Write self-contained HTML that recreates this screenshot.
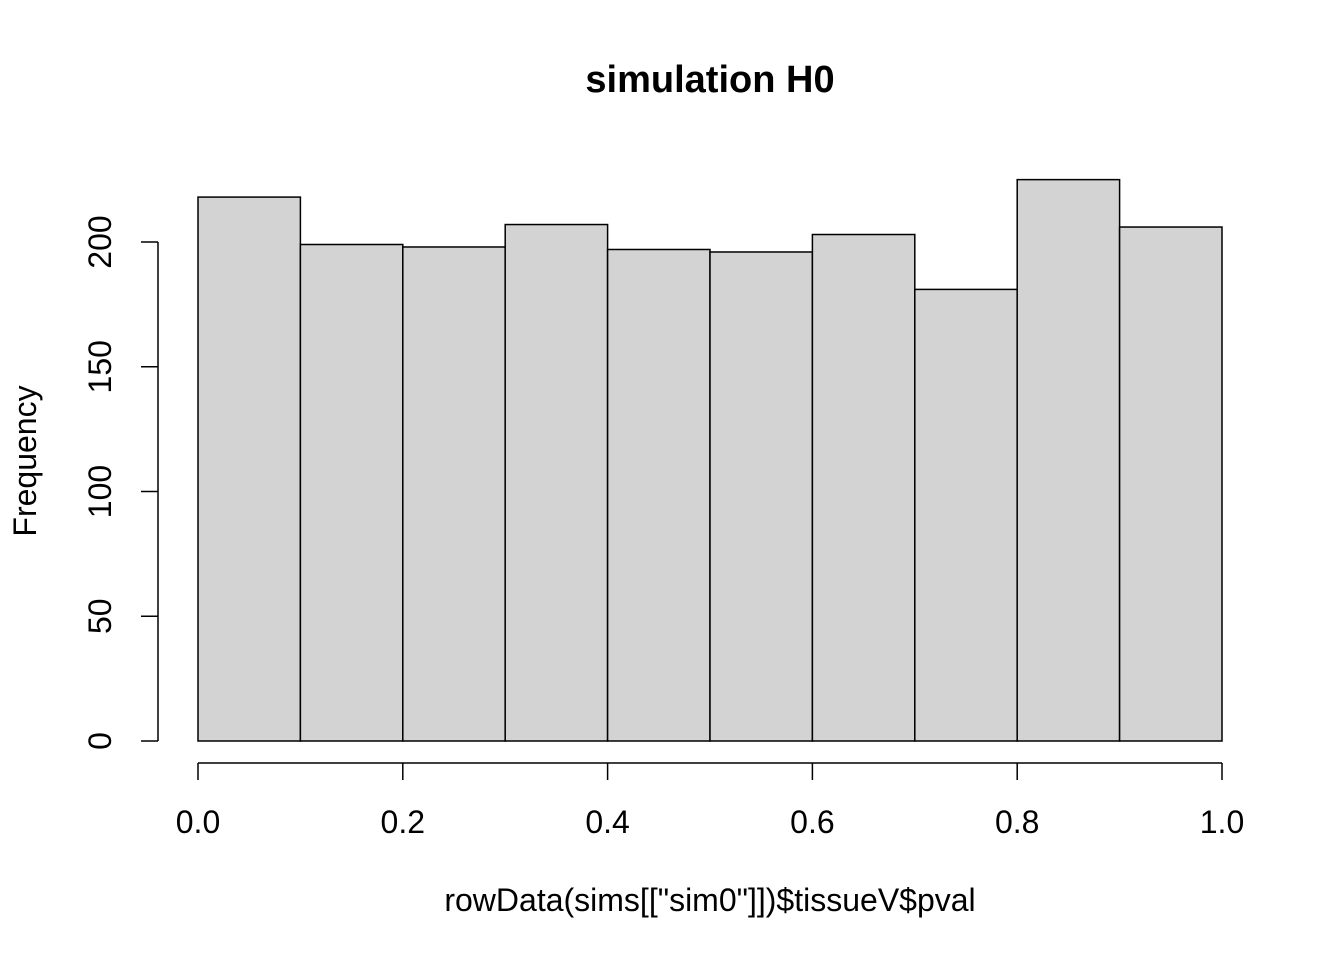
<!DOCTYPE html>
<html><head><meta charset="utf-8"><style>
html,body{margin:0;padding:0;background:#fff;}
svg text{font-family:"Liberation Sans",Arial,sans-serif;fill:#000;}
</style></head><body>
<svg id="chart" width="1344" height="960" xmlns="http://www.w3.org/2000/svg">
<text x="710" y="92" text-anchor="middle" font-size="38" font-weight="bold">simulation H0</text>
<text x="710" y="911" text-anchor="middle" font-size="32">rowData(sims[["sim0"]])$tissueV$pval</text>
<text transform="translate(36,461) rotate(-90)" text-anchor="middle" font-size="32">Frequency</text>
<g id="bars"></g><g id="xaxis"></g><g id="yaxis"></g>
</svg>
<script>
const binStarts = [0.0,0.1,0.2,0.3,0.4,0.5,0.6,0.7,0.8,0.9];
const counts = [218,199,198,207,197,196,203,181,225,206];
const binWidth = 0.1;
const xTicks = [0.0,0.2,0.4,0.6,0.8,1.0];
const xTickLabels = ["0.0","0.2","0.4","0.6","0.8","1.0"];
const yTicks = [0,50,100,150,200];
const yTickLabels = ["0","50","100","150","200"];

const NS="http://www.w3.org/2000/svg";
const xs = v => 198 + v*1024;
const ys = v => 741 - v*2.495;
function mk(tag, attrs, parent){const e=document.createElementNS(NS,tag);for(const k in attrs)e.setAttribute(k,attrs[k]);parent.appendChild(e);return e;}
const bars=document.getElementById('bars');
binStarts.forEach((b,i)=>{
  const r=mk('rect',{x:xs(b),y:ys(counts[i]),width:xs(b+binWidth)-xs(b),height:ys(0)-ys(counts[i]),fill:'#d3d3d3',stroke:'#000','stroke-width':1.5},bars);
  
  
});
const xa=document.getElementById('xaxis');
mk('line',{x1:xs(xTicks[0]),x2:xs(xTicks[xTicks.length-1]),y1:763,y2:763,stroke:'#000','stroke-width':1.5},xa);
xTicks.forEach((t,i)=>{
  mk('line',{x1:xs(t),x2:xs(t),y1:763,y2:780,stroke:'#000','stroke-width':1.5},xa);
  const tx=mk('text',{x:xs(t),y:833,'text-anchor':'middle','font-size':32},xa);
  tx.textContent=xTickLabels[i];
  
  
});
const ya=document.getElementById('yaxis');
mk('line',{x1:158,x2:158,y1:ys(yTicks[0]),y2:ys(yTicks[yTicks.length-1]),stroke:'#000','stroke-width':1.5},ya);
yTicks.forEach((t,i)=>{
  mk('line',{x1:141,x2:158,y1:ys(t),y2:ys(t),stroke:'#000','stroke-width':1.5},ya);
  const tx=mk('text',{transform:`translate(111,${ys(t)}) rotate(-90)`,'text-anchor':'middle','font-size':32},ya);
  tx.textContent=yTickLabels[i];
  
  
});
</script>
</body></html>
